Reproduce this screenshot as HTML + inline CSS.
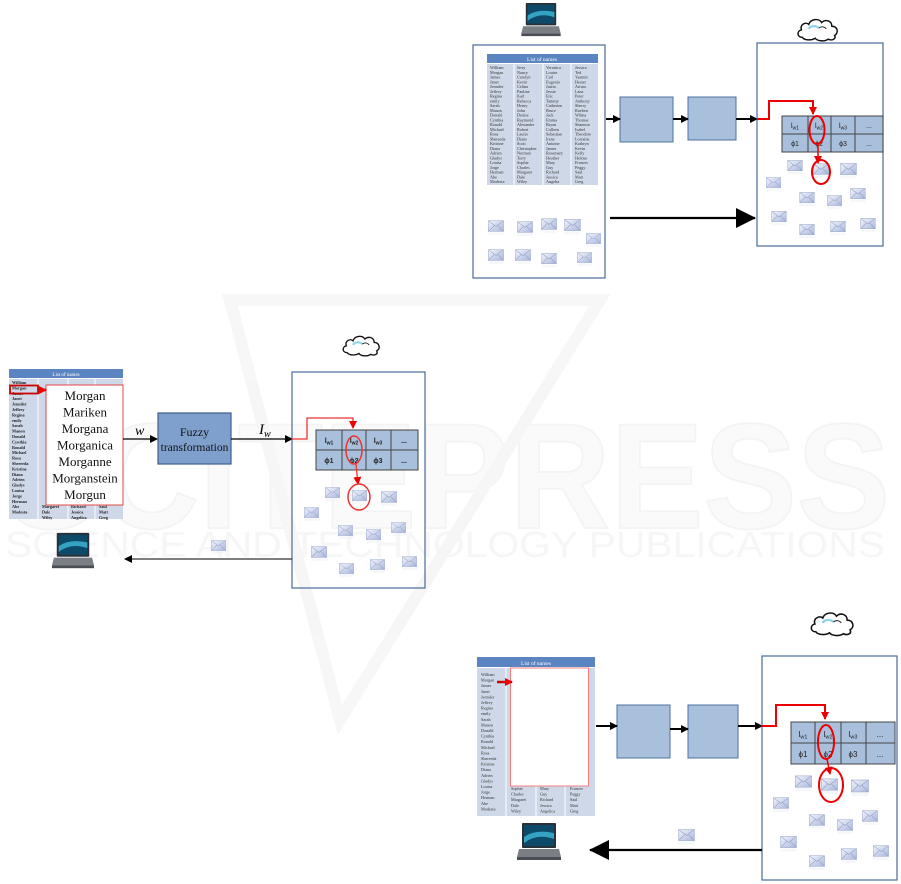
<!DOCTYPE html>
<html><head><meta charset="utf-8"><style>
html,body{margin:0;padding:0;background:#fff;}
svg{display:block;font-family:"Liberation Serif",serif;}
</style></head><body>
<svg width="901" height="884" viewBox="0 0 901 884" xmlns="http://www.w3.org/2000/svg">
<defs>
<linearGradient id="eg" x1="0" y1="0" x2="1" y2="1"><stop offset="0" stop-color="#f2f5fc"/><stop offset="1" stop-color="#a9b7dc"/></linearGradient>
<symbol id="env" viewBox="0 0 18 14" overflow="visible">
<rect x="0.5" y="0.5" width="17" height="12" fill="url(#eg)" stroke="#9aa8cc" stroke-width="0.6"/>
<path d="M0.5 0.5 L9 7 L17.5 0.5 M0.5 12.5 L7 6 M17.5 12.5 L11 6" fill="none" stroke="#8e9cc4" stroke-width="0.6"/>
<rect x="0.5" y="13.5" width="17" height="3" fill="#eef1f8" opacity="0.6"/>
</symbol>
<symbol id="lap" viewBox="0 0 44 38" overflow="visible">
<rect x="5" y="0" width="34" height="25" rx="1" fill="#2a3038"/>
<rect x="7" y="2" width="30" height="21" fill="#0d4a6a"/>
<path d="M7 14 Q18 6 37 10 L37 16 Q20 10 7 20Z" fill="#3fb8d8" opacity="0.8"/>
<path d="M2 26 L42 26 L44 34 L0 34Z" fill="#7a7f86"/>
<rect x="0" y="34" width="44" height="3" fill="#4a4e54"/>
</symbol>
<symbol id="cloud" viewBox="0 0 46 26" overflow="visible">
<path d="M6 22 C0 22 0 15 5 14 C3 8 10 5 13 8 C15 2 24 1 27 6 C31 2 38 4 38 10 C44 10 46 17 41 20 C43 24 38 26 34 24 C30 27 22 26 20 23 C15 26 8 25 6 22Z" fill="#fff" stroke="#111" stroke-width="1.6"/>
<path d="M13 13 C15 9 21 9 24 12" fill="none" stroke="#8fd6ea" stroke-width="2.5"/>
<path d="M24 12 C26 10 30 10 32 13" fill="none" stroke="#111" stroke-width="1"/>
</symbol>
<marker id="ab" markerWidth="8" markerHeight="8" refX="7" refY="4" orient="auto" markerUnits="userSpaceOnUse"><path d="M0 0 L8 4 L0 8Z" fill="#000"/></marker>
<marker id="ar" markerWidth="8" markerHeight="8" refX="7" refY="4" orient="auto" markerUnits="userSpaceOnUse"><path d="M0 0 L8 4 L0 8Z" fill="#e00"/></marker>
<marker id="abig" markerWidth="20" markerHeight="20" refX="19" refY="10" orient="auto" markerUnits="userSpaceOnUse"><path d="M0 0 L20 10 L0 20Z" fill="#000"/></marker>
</defs>

<!-- watermark -->
<g opacity="0.35">
<text x="5" y="528" font-family="Liberation Sans,sans-serif" font-weight="bold" font-size="150" textLength="885" lengthAdjust="spacingAndGlyphs" fill="#f3f3f3" stroke="#e0e0e0" stroke-width="2">SCITEPRESS</text>
<text x="5" y="557" font-family="Liberation Sans,sans-serif" font-size="36" textLength="880" lengthAdjust="spacingAndGlyphs" fill="#e6e6e6">SCIENCE AND TECHNOLOGY PUBLICATIONS</text>
<path d="M230 300 L600 300 L340 720Z" fill="none" stroke="#e8e8e8" stroke-width="12"/>
</g>

<!-- ================= PANEL A (top right) ================= -->
<use href="#lap" x="520" y="3" width="42" height="34"/>
<rect x="473" y="45" width="132" height="233" fill="none" stroke="#4a6a9a" stroke-width="1.2"/>
<rect x="487" y="54" width="111" height="9" fill="#5b85c0"/>
<text x="542" y="61" font-size="5.5" fill="#fff" text-anchor="middle">List of names</text>
<rect x="487" y="64" width="111" height="121" fill="#cfd8e8"/>
<g stroke="#fff" stroke-width="1"><line x1="514" y1="64" x2="514" y2="185"/><line x1="543" y1="64" x2="543" y2="185"/><line x1="571" y1="64" x2="571" y2="185"/></g>
<g font-size="4.2" fill="#333">
<text x="490" y="69"><tspan x="490" dy="0">William</tspan><tspan x="490" dy="4.75">Morgan</tspan><tspan x="490" dy="4.75">James</tspan><tspan x="490" dy="4.75">Janet</tspan><tspan x="490" dy="4.75">Jennifer</tspan><tspan x="490" dy="4.75">Jeffrey</tspan><tspan x="490" dy="4.75">Regina</tspan><tspan x="490" dy="4.75">emily</tspan><tspan x="490" dy="4.75">Sarah</tspan><tspan x="490" dy="4.75">Manon</tspan><tspan x="490" dy="4.75">Donald</tspan><tspan x="490" dy="4.75">Cynthia</tspan><tspan x="490" dy="4.75">Ronald</tspan><tspan x="490" dy="4.75">Michael</tspan><tspan x="490" dy="4.75">Rosa</tspan><tspan x="490" dy="4.75">Shereeda</tspan><tspan x="490" dy="4.75">Kristine</tspan><tspan x="490" dy="4.75">Diana</tspan><tspan x="490" dy="4.75">Adrien</tspan><tspan x="490" dy="4.75">Gladys</tspan><tspan x="490" dy="4.75">Louisa</tspan><tspan x="490" dy="4.75">Jorge</tspan><tspan x="490" dy="4.75">Herman</tspan><tspan x="490" dy="4.75">Abe</tspan><tspan x="490" dy="4.75">Modesta</tspan></text>
<text x="517" y="69"><tspan x="517" dy="0">Jerry</tspan><tspan x="517" dy="4.75">Nancy</tspan><tspan x="517" dy="4.75">Carolyn</tspan><tspan x="517" dy="4.75">Kevin</tspan><tspan x="517" dy="4.75">Celina</tspan><tspan x="517" dy="4.75">Pauline</tspan><tspan x="517" dy="4.75">Karl</tspan><tspan x="517" dy="4.75">Rebecca</tspan><tspan x="517" dy="4.75">Henry</tspan><tspan x="517" dy="4.75">John</tspan><tspan x="517" dy="4.75">Denise</tspan><tspan x="517" dy="4.75">Raymond</tspan><tspan x="517" dy="4.75">Alexander</tspan><tspan x="517" dy="4.75">Robert</tspan><tspan x="517" dy="4.75">Laurie</tspan><tspan x="517" dy="4.75">Diane</tspan><tspan x="517" dy="4.75">Scott</tspan><tspan x="517" dy="4.75">Christopher</tspan><tspan x="517" dy="4.75">Norman</tspan><tspan x="517" dy="4.75">Terry</tspan><tspan x="517" dy="4.75">Sophie</tspan><tspan x="517" dy="4.75">Charles</tspan><tspan x="517" dy="4.75">Margaret</tspan><tspan x="517" dy="4.75">Dale</tspan><tspan x="517" dy="4.75">Wiley</tspan></text>
<text x="546" y="69"><tspan x="546" dy="0">Veronica</tspan><tspan x="546" dy="4.75">Louise</tspan><tspan x="546" dy="4.75">Carl</tspan><tspan x="546" dy="4.75">Eugenio</tspan><tspan x="546" dy="4.75">Justin</tspan><tspan x="546" dy="4.75">Jessie</tspan><tspan x="546" dy="4.75">Eric</tspan><tspan x="546" dy="4.75">Tammy</tspan><tspan x="546" dy="4.75">Catherine</tspan><tspan x="546" dy="4.75">Bruce</tspan><tspan x="546" dy="4.75">Jack</tspan><tspan x="546" dy="4.75">Emma</tspan><tspan x="546" dy="4.75">Bryan</tspan><tspan x="546" dy="4.75">Colleen</tspan><tspan x="546" dy="4.75">Sebastian</tspan><tspan x="546" dy="4.75">Irene</tspan><tspan x="546" dy="4.75">Antoine</tspan><tspan x="546" dy="4.75">James</tspan><tspan x="546" dy="4.75">Rosemary</tspan><tspan x="546" dy="4.75">Heather</tspan><tspan x="546" dy="4.75">Mary</tspan><tspan x="546" dy="4.75">Guy</tspan><tspan x="546" dy="4.75">Richard</tspan><tspan x="546" dy="4.75">Jessica</tspan><tspan x="546" dy="4.75">Angelia</tspan></text>
<text x="575" y="69"><tspan x="575" dy="0">Jessica</tspan><tspan x="575" dy="4.75">Ted</tspan><tspan x="575" dy="4.75">Yasmin</tspan><tspan x="575" dy="4.75">Hester</tspan><tspan x="575" dy="4.75">Arturo</tspan><tspan x="575" dy="4.75">Lana</tspan><tspan x="575" dy="4.75">Peter</tspan><tspan x="575" dy="4.75">Anthony</tspan><tspan x="575" dy="4.75">Sherry</tspan><tspan x="575" dy="4.75">Rueben</tspan><tspan x="575" dy="4.75">Wilma</tspan><tspan x="575" dy="4.75">Thomas</tspan><tspan x="575" dy="4.75">Shannon</tspan><tspan x="575" dy="4.75">Isabel</tspan><tspan x="575" dy="4.75">Theodore</tspan><tspan x="575" dy="4.75">Lorraine</tspan><tspan x="575" dy="4.75">Kathryn</tspan><tspan x="575" dy="4.75">Kevin</tspan><tspan x="575" dy="4.75">Kelly</tspan><tspan x="575" dy="4.75">Helena</tspan><tspan x="575" dy="4.75">Frances</tspan><tspan x="575" dy="4.75">Peggy</tspan><tspan x="575" dy="4.75">Saul</tspan><tspan x="575" dy="4.75">Matt</tspan><tspan x="575" dy="4.75">Greg</tspan></text>
</g>
<use href="#env" x="488" y="220" width="16" height="13"/>
<use href="#env" x="517" y="221" width="16" height="13"/>
<use href="#env" x="541" y="218" width="16" height="13"/>
<use href="#env" x="564" y="219" width="17" height="13"/>
<use href="#env" x="586" y="233" width="15" height="12"/>
<use href="#env" x="488" y="249" width="16" height="13"/>
<use href="#env" x="515" y="249" width="16" height="13"/>
<use href="#env" x="541" y="253" width="16" height="12"/>
<use href="#env" x="577" y="252" width="15" height="12"/>
<line x1="610" y1="218" x2="755" y2="218" stroke="#000" stroke-width="2.2" marker-end="url(#abig)"/>
<rect x="620" y="97" width="53" height="45" fill="#a8c0dc" stroke="#4f6f9f" stroke-width="1"/>
<rect x="688" y="97" width="48" height="43" fill="#a8c0dc" stroke="#4f6f9f" stroke-width="1"/>
<g stroke="#000" stroke-width="2"><line x1="606" y1="119" x2="620" y2="119" marker-end="url(#ab)"/><line x1="673" y1="119" x2="688" y2="119" marker-end="url(#ab)"/><line x1="736" y1="119" x2="757" y2="119" marker-end="url(#ab)"/></g>
<use href="#cloud" x="796" y="17" width="44" height="24"/>
<rect x="757" y="43" width="126" height="203" fill="none" stroke="#4a6a9a" stroke-width="1.2"/>
<rect x="782" y="116" width="101" height="36" fill="#a8c0dc" stroke="#444" stroke-width="1"/>
<g stroke="#444" stroke-width="1"><line x1="782" y1="134" x2="883" y2="134"/><line x1="808" y1="116" x2="808" y2="152"/><line x1="831" y1="116" x2="831" y2="152"/><line x1="855" y1="116" x2="855" y2="152"/></g>
<g font-family="Liberation Sans,sans-serif" font-size="7" fill="#222" text-anchor="middle">
<text x="795" y="128">l<tspan font-size="5" dy="1.5">w1</tspan></text><text x="819" y="128">l<tspan font-size="5" dy="1.5">w2</tspan></text><text x="843" y="128">l<tspan font-size="5" dy="1.5">w3</tspan></text><text x="869" y="128">...</text>
<text x="795" y="146">ϕ1</text><text x="819" y="146">ϕ2</text><text x="843" y="146">ϕ3</text><text x="869" y="146">...</text>
</g>
<path d="M757 119 L769 119 L769 101 L813 101 L813 114" fill="none" stroke="#e00" stroke-width="2" marker-end="url(#ar)"/>
<ellipse cx="817" cy="130" rx="7.5" ry="14" fill="none" stroke="#e00" stroke-width="2"/>
<line x1="818" y1="144" x2="818" y2="163" stroke="#e00" stroke-width="1.5" marker-end="url(#ar)"/>
<use href="#env" x="813" y="163" width="16" height="13"/>
<ellipse cx="821" cy="172" rx="9" ry="12" fill="none" stroke="#e00" stroke-width="2"/>
<use href="#env" x="787" y="160" width="16" height="12"/>
<use href="#env" x="840" y="163" width="17" height="13"/>
<use href="#env" x="766" y="177" width="15" height="12"/>
<use href="#env" x="799" y="192" width="16" height="12"/>
<use href="#env" x="827" y="195" width="15" height="12"/>
<use href="#env" x="850" y="188" width="16" height="12"/>
<use href="#env" x="771" y="211" width="16" height="12"/>
<use href="#env" x="799" y="224" width="16" height="12"/>
<use href="#env" x="830" y="221" width="16" height="12"/>
<use href="#env" x="860" y="218" width="16" height="12"/>

<!-- ================= PANEL B (left middle) ================= -->
<use href="#cloud" x="340" y="334" width="43" height="22"/>
<rect x="9" y="369" width="114" height="9" fill="#5b85c0"/>
<text x="66" y="376" font-size="5" fill="#fff" text-anchor="middle">List of names</text>
<rect x="9" y="379" width="114" height="140" fill="#cfd8e8"/>
<g stroke="#fff" stroke-width="1"><line x1="38" y1="379" x2="38" y2="519"/><line x1="68" y1="379" x2="68" y2="519"/><line x1="95" y1="379" x2="95" y2="519"/></g>
<g font-size="4.2" font-weight="bold" fill="#222">
<text x="12" y="384"><tspan x="12" dy="0">William</tspan><tspan x="12" dy="5.4">Morgan</tspan><tspan x="12" dy="5.4">James</tspan><tspan x="12" dy="5.4">Janet</tspan><tspan x="12" dy="5.4">Jennifer</tspan><tspan x="12" dy="5.4">Jeffrey</tspan><tspan x="12" dy="5.4">Regina</tspan><tspan x="12" dy="5.4">emily</tspan><tspan x="12" dy="5.4">Sarah</tspan><tspan x="12" dy="5.4">Manon</tspan><tspan x="12" dy="5.4">Donald</tspan><tspan x="12" dy="5.4">Cynthia</tspan><tspan x="12" dy="5.4">Ronald</tspan><tspan x="12" dy="5.4">Michael</tspan><tspan x="12" dy="5.4">Rosa</tspan><tspan x="12" dy="5.4">Shereeda</tspan><tspan x="12" dy="5.4">Kristine</tspan><tspan x="12" dy="5.4">Diana</tspan><tspan x="12" dy="5.4">Adrien</tspan><tspan x="12" dy="5.4">Gladys</tspan><tspan x="12" dy="5.4">Louisa</tspan><tspan x="12" dy="5.4">Jorge</tspan><tspan x="12" dy="5.4">Herman</tspan><tspan x="12" dy="5.4">Abe</tspan><tspan x="12" dy="5.4">Modesta</tspan></text>
<text x="42" y="508"><tspan x="42" dy="0">Margaret</tspan><tspan x="42" dy="5.4">Dale</tspan><tspan x="42" dy="5.4">Wiley</tspan></text>
<text x="71" y="508"><tspan x="71" dy="0">Richard</tspan><tspan x="71" dy="5.4">Jessica</tspan><tspan x="71" dy="5.4">Angelica</tspan></text>
<text x="99" y="508"><tspan x="99" dy="0">Saul</tspan><tspan x="99" dy="5.4">Matt</tspan><tspan x="99" dy="5.4">Greg</tspan></text>
</g>
<rect x="46" y="385" width="77" height="120" fill="#fff" stroke="#e04848" stroke-width="1"/>
<rect x="10" y="385.5" width="28" height="8" fill="none" stroke="#c00" stroke-width="1.8"/>
<line x1="38" y1="390" x2="46" y2="390" stroke="#c00" stroke-width="2.5" marker-end="url(#ar)"/>
<g font-size="13" fill="#111" text-anchor="middle">
<text x="85" y="400">Morgan</text><text x="85" y="416.5">Mariken</text><text x="85" y="433">Morgana</text><text x="85" y="449.5">Morganica</text><text x="85" y="466">Morganne</text><text x="85" y="482.5">Morganstein</text><text x="85" y="499">Morgun</text>
</g>
<line x1="123" y1="439" x2="157" y2="439" stroke="#000" stroke-width="1.2" marker-end="url(#ab)"/>
<text x="135" y="435" font-size="14" font-style="italic">w</text>
<rect x="158" y="413" width="73" height="51" fill="#7fa0cc" stroke="#3e5f8f" stroke-width="1.2"/>
<text x="194.5" y="436" font-size="12" text-anchor="middle" fill="#111">Fuzzy</text>
<text x="194.5" y="451" font-size="11.5" text-anchor="middle" fill="#111">transformation</text>
<line x1="231" y1="439" x2="292" y2="439" stroke="#000" stroke-width="1.2" marker-end="url(#ab)"/>
<text x="259" y="434" font-size="15" font-style="italic">I<tspan font-size="10" dy="3">w</tspan></text>
<rect x="292" y="372" width="133" height="216" fill="none" stroke="#4a6a9a" stroke-width="1.2"/>
<rect x="316" y="430" width="102" height="40" fill="#a8c0dc" stroke="#444" stroke-width="1"/>
<g stroke="#444" stroke-width="1"><line x1="316" y1="450" x2="418" y2="450"/><line x1="342" y1="430" x2="342" y2="470"/><line x1="366" y1="430" x2="366" y2="470"/><line x1="391" y1="430" x2="391" y2="470"/></g>
<g font-family="Liberation Sans,sans-serif" font-size="7" font-weight="bold" fill="#222" text-anchor="middle">
<text x="329" y="443">l<tspan font-size="5" dy="1.5">w1</tspan></text><text x="354" y="443">l<tspan font-size="5" dy="1.5">w2</tspan></text><text x="378" y="443">l<tspan font-size="5" dy="1.5">w3</tspan></text><text x="404" y="443">...</text>
<text x="329" y="463">ϕ1</text><text x="354" y="463">ϕ2</text><text x="378" y="463">ϕ3</text><text x="404" y="463">...</text>
</g>
<path d="M292 439 L307 439 L307 418 L353 418 L353 428" fill="none" stroke="#e33" stroke-width="1.3" marker-end="url(#ar)"/>
<ellipse cx="354" cy="450" rx="8" ry="14" fill="none" stroke="#e33" stroke-width="1.5"/>
<line x1="356" y1="464" x2="358" y2="484" stroke="#e33" stroke-width="1.3" marker-end="url(#ar)"/>
<use href="#env" x="352" y="490" width="15" height="12"/>
<ellipse cx="359" cy="497" rx="11" ry="13" fill="none" stroke="#e33" stroke-width="1.5"/>
<use href="#env" x="325" y="487" width="15" height="12"/>
<use href="#env" x="381" y="491" width="16" height="13"/>
<use href="#env" x="304" y="507" width="15" height="12"/>
<use href="#env" x="338" y="525" width="15" height="12"/>
<use href="#env" x="366" y="529" width="15" height="12"/>
<use href="#env" x="391" y="522" width="15" height="12"/>
<use href="#env" x="311" y="546" width="16" height="13"/>
<use href="#env" x="339" y="563" width="15" height="12"/>
<use href="#env" x="370" y="559" width="15" height="12"/>
<use href="#env" x="402" y="556" width="15" height="12"/>
<use href="#env" x="211" y="540" width="15" height="12"/>
<line x1="292" y1="559" x2="125" y2="559" stroke="#333" stroke-width="1.2" marker-end="url(#ab)"/>
<use href="#lap" x="52" y="532" width="42" height="38"/>

<!-- ================= PANEL C (bottom right) ================= -->
<use href="#cloud" x="810" y="610" width="45" height="26"/>
<rect x="477" y="657" width="118" height="10" fill="#5b85c0"/>
<text x="536" y="665" font-size="5.5" fill="#fff" text-anchor="middle">List of names</text>
<rect x="477" y="668" width="118" height="148" fill="#cfd8e8"/>
<g stroke="#fff" stroke-width="1"><line x1="506" y1="668" x2="506" y2="816"/><line x1="536" y1="668" x2="536" y2="816"/><line x1="565" y1="668" x2="565" y2="816"/></g>
<g font-size="4.2" fill="#333">
<text x="481" y="676"><tspan x="481" dy="0">William</tspan><tspan x="481" dy="5.6">Morgan</tspan><tspan x="481" dy="5.6">James</tspan><tspan x="481" dy="5.6">Janet</tspan><tspan x="481" dy="5.6">Jennifer</tspan><tspan x="481" dy="5.6">Jeffrey</tspan><tspan x="481" dy="5.6">Regina</tspan><tspan x="481" dy="5.6">emily</tspan><tspan x="481" dy="5.6">Sarah</tspan><tspan x="481" dy="5.6">Manon</tspan><tspan x="481" dy="5.6">Donald</tspan><tspan x="481" dy="5.6">Cynthia</tspan><tspan x="481" dy="5.6">Ronald</tspan><tspan x="481" dy="5.6">Michael</tspan><tspan x="481" dy="5.6">Rosa</tspan><tspan x="481" dy="5.6">Shereeda</tspan><tspan x="481" dy="5.6">Kristine</tspan><tspan x="481" dy="5.6">Diana</tspan><tspan x="481" dy="5.6">Adrien</tspan><tspan x="481" dy="5.6">Gladys</tspan><tspan x="481" dy="5.6">Louisa</tspan><tspan x="481" dy="5.6">Jorge</tspan><tspan x="481" dy="5.6">Herman</tspan><tspan x="481" dy="5.6">Abe</tspan><tspan x="481" dy="5.6">Modesta</tspan></text>
<text x="511" y="790"><tspan x="511" dy="0">Sophie</tspan><tspan x="511" dy="5.6">Charles</tspan><tspan x="511" dy="5.6">Margaret</tspan><tspan x="511" dy="5.6">Dale</tspan><tspan x="511" dy="5.6">Wiley</tspan></text>
<text x="540" y="790"><tspan x="540" dy="0">Mary</tspan><tspan x="540" dy="5.6">Guy</tspan><tspan x="540" dy="5.6">Richard</tspan><tspan x="540" dy="5.6">Jessica</tspan><tspan x="540" dy="5.6">Angelica</tspan></text>
<text x="570" y="790"><tspan x="570" dy="0">Frances</tspan><tspan x="570" dy="5.6">Peggy</tspan><tspan x="570" dy="5.6">Saul</tspan><tspan x="570" dy="5.6">Matt</tspan><tspan x="570" dy="5.6">Greg</tspan></text>
</g>
<rect x="510.5" y="668" width="78" height="118" fill="#fff" stroke="#f08080" stroke-width="1"/>
<line x1="497" y1="682" x2="512" y2="682" stroke="#c00" stroke-width="2.5" marker-end="url(#ar)"/>
<rect x="617" y="705" width="53" height="53" fill="#a8c0dc" stroke="#4f6f9f" stroke-width="1"/>
<rect x="688" y="705" width="50" height="53" fill="#a8c0dc" stroke="#4f6f9f" stroke-width="1"/>
<g stroke="#000" stroke-width="2"><line x1="596" y1="726" x2="617" y2="726" marker-end="url(#ab)"/><line x1="670" y1="729" x2="688" y2="729" marker-end="url(#ab)"/><line x1="738" y1="726" x2="762" y2="726" marker-end="url(#ab)"/></g>
<rect x="762" y="656" width="135" height="224" fill="none" stroke="#4a6a9a" stroke-width="1.2"/>
<rect x="791" y="722" width="104" height="42" fill="#a8c0dc" stroke="#444" stroke-width="1"/>
<g stroke="#444" stroke-width="1"><line x1="791" y1="743" x2="895" y2="743"/><line x1="815" y1="722" x2="815" y2="764"/><line x1="841" y1="722" x2="841" y2="764"/><line x1="866" y1="722" x2="866" y2="764"/></g>
<g font-family="Liberation Sans,sans-serif" font-size="8" fill="#222" text-anchor="middle">
<text x="803" y="737">l<tspan font-size="5.5" dy="1.5">w1</tspan></text><text x="828" y="737">l<tspan font-size="5.5" dy="1.5">w2</tspan></text><text x="853" y="737">l<tspan font-size="5.5" dy="1.5">w3</tspan></text><text x="880" y="737">...</text>
<text x="803" y="757">ϕ1</text><text x="828" y="757">ϕ2</text><text x="853" y="757">ϕ3</text><text x="880" y="757">...</text>
</g>
<path d="M762 726 L776 726 L776 705 L825 705 L825 719" fill="none" stroke="#e00" stroke-width="2" marker-end="url(#ar)"/>
<ellipse cx="826" cy="742" rx="8" ry="17" fill="none" stroke="#e00" stroke-width="2"/>
<line x1="827" y1="759" x2="830" y2="774" stroke="#e00" stroke-width="1.5" marker-end="url(#ar)"/>
<use href="#env" x="821" y="778" width="17" height="14"/>
<ellipse cx="831" cy="785" rx="12" ry="17" fill="none" stroke="#e00" stroke-width="2"/>
<use href="#env" x="795" y="775" width="17" height="14"/>
<use href="#env" x="851" y="779" width="18" height="15"/>
<use href="#env" x="773" y="797" width="16" height="13"/>
<use href="#env" x="809" y="814" width="16" height="13"/>
<use href="#env" x="837" y="819" width="16" height="13"/>
<use href="#env" x="862" y="810" width="16" height="13"/>
<use href="#env" x="780" y="836" width="17" height="13"/>
<use href="#env" x="809" y="855" width="16" height="13"/>
<use href="#env" x="841" y="848" width="16" height="13"/>
<use href="#env" x="873" y="845" width="16" height="13"/>
<use href="#env" x="678" y="829" width="17" height="13"/>
<line x1="762" y1="850" x2="590" y2="850" stroke="#000" stroke-width="2.2" marker-end="url(#abig)"/>
<use href="#lap" x="517" y="822" width="44" height="40"/>
</svg>
</body></html>
